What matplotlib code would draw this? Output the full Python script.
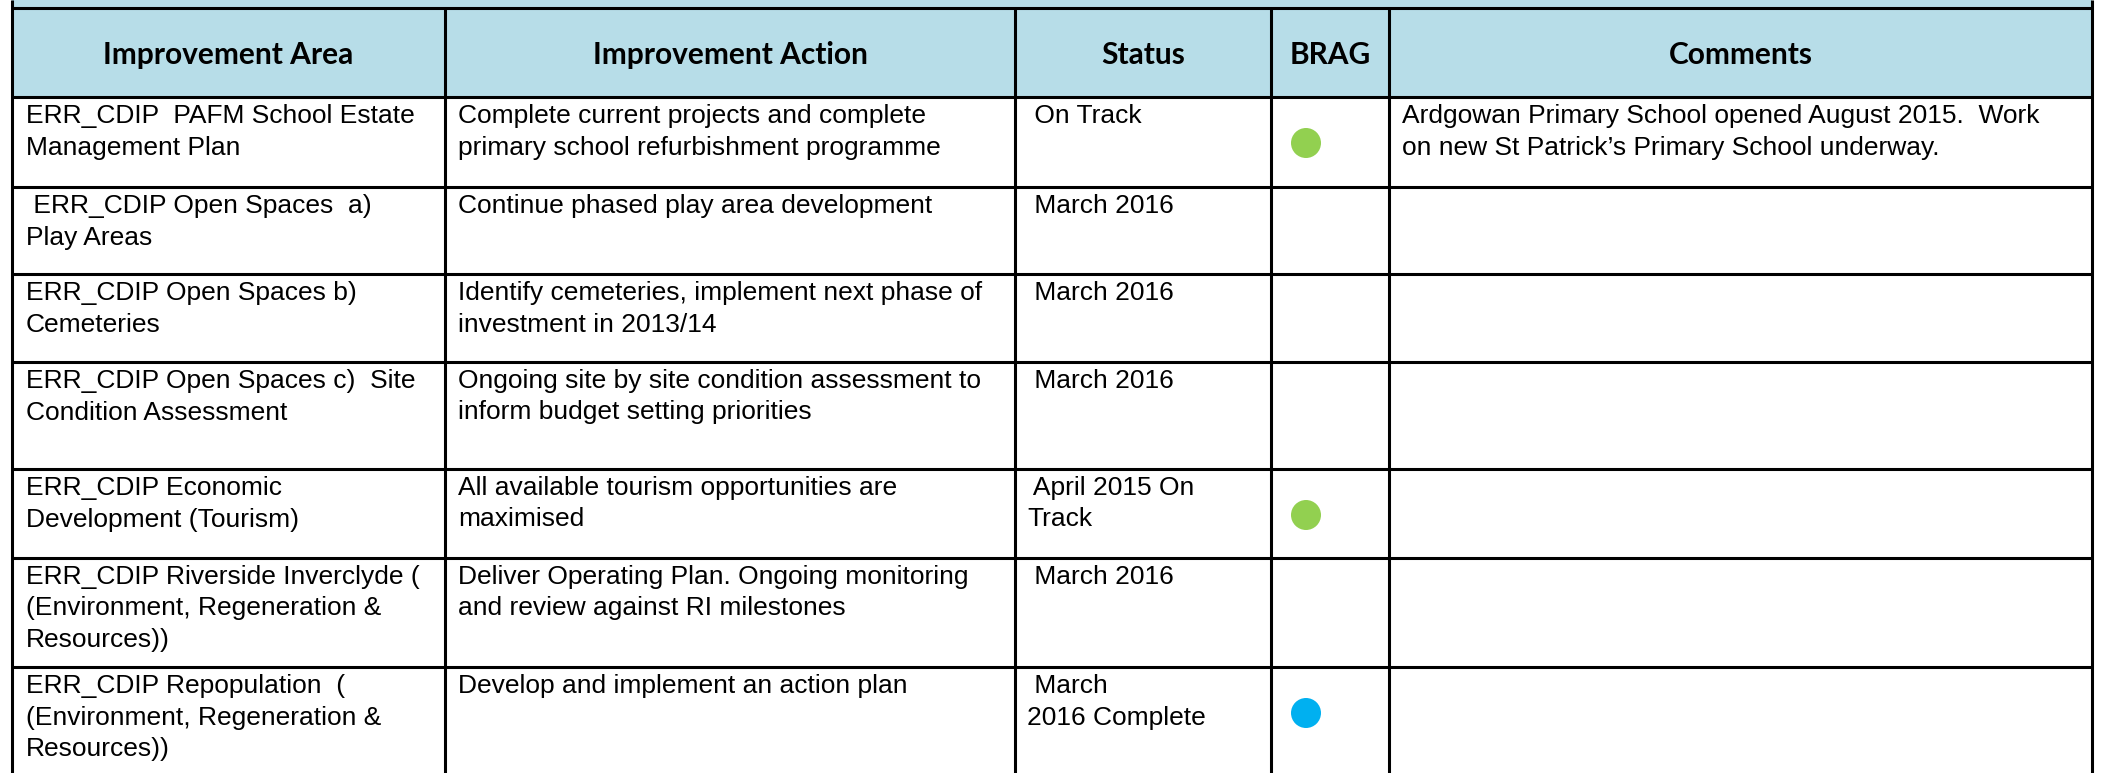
import matplotlib
matplotlib.use("Agg")
import matplotlib.pyplot as plt
from matplotlib.patches import Rectangle, Circle

# table content
headers = ["Improvement Area", "Improvement Action", "Status", "BRAG", "Comments"]

areas = [
    "ERR_CDIP  PAFM School Estate\nManagement Plan",
    " ERR_CDIP Open Spaces  a)\nPlay Areas",
    "ERR_CDIP Open Spaces b)\nCemeteries",
    "ERR_CDIP Open Spaces c)  Site\nCondition Assessment",
    "ERR_CDIP Economic\nDevelopment (Tourism)",
    "ERR_CDIP Riverside Inverclyde (\n(Environment, Regeneration &\nResources))",
    "ERR_CDIP Repopulation  (\n(Environment, Regeneration &\nResources))",
]
actions = [
    "Complete current projects and complete\nprimary school refurbishment programme",
    "Continue phased play area development",
    "Identify cemeteries, implement next phase of\ninvestment in 2013/14",
    "Ongoing site by site condition assessment to\ninform budget setting priorities",
    "All available tourism opportunities are\nmaximised",
    "Deliver Operating Plan. Ongoing monitoring\nand review against RI milestones",
    "Develop and implement an action plan",
]
statuses = [
    " On Track",
    " March 2016",
    " March 2016",
    " March 2016",
    " April 2015 On\nTrack",
    " March 2016",
    " March\n2016 Complete",
]
brag = ["green", None, None, None, "green", None, "blue"]
comments = [
    "Ardgowan Primary School opened August 2015.  Work\non new St Patrick\u2019s Primary School underway.",
    "", "", "", "", "", "",
]

brag_colors = {"green": "#92D050", "blue": "#00B0F0"}
header_fill = "#B7DDE8"

# layout in pixels
W, H = 2101, 773
col_x = [12, 445, 1015, 1271, 1389, 2092]
row_y = [97, 187, 274, 362, 469, 558, 667, 900]
top_y = 8
lw = 2.2

fig = plt.figure(figsize=(W / 100, H / 100), dpi=100)
ax = fig.add_axes([0, 0, 1, 1])
ax.set_xlim(0, W)
ax.set_ylim(H, 0)
ax.axis("off")

# header background
ax.add_patch(Rectangle((col_x[0], 0), col_x[-1] - col_x[0], row_y[0], facecolor=header_fill, edgecolor="none"))

# header labels
for i, h in enumerate(headers):
    cx = (col_x[i] + col_x[i + 1]) / 2
    ax.text(cx, 64, h, ha="center", va="baseline", fontsize=21.5, fontweight="bold",
            family="Lato", color="black")

# body text
body_font = dict(fontsize=19, family="Liberation Sans", color="black", va="baseline", ha="left")
pads = [14, 13, 12, 0, 13]
for r in range(len(areas)):
    top = row_y[r]
    cells = [areas[r], actions[r], statuses[r], None, comments[r]]
    for c, txt in enumerate(cells):
        if not txt:
            continue
        for k, line in enumerate(txt.split("\n")):
            ax.text(col_x[c] + pads[c], top + 26 + k * 31.5, line, **body_font)
    if brag[r]:
        cx = (col_x[3] + col_x[4]) / 2 - 24
        ax.add_patch(Circle((cx, top + 46), 15, facecolor=brag_colors[brag[r]], edgecolor="none"))

# grid lines
ax.plot([col_x[0], col_x[-1]], [top_y, top_y], color="black", lw=lw, solid_capstyle="butt")
for y in row_y[:-1]:
    ax.plot([col_x[0], col_x[-1]], [y, y], color="black", lw=lw, solid_capstyle="butt")
for i, x in enumerate(col_x):
    y0 = 0 if i in (0, len(col_x) - 1) else top_y
    ax.plot([x, x], [y0, H], color="black", lw=lw, solid_capstyle="butt")

fig.savefig("out.png", dpi=100)
